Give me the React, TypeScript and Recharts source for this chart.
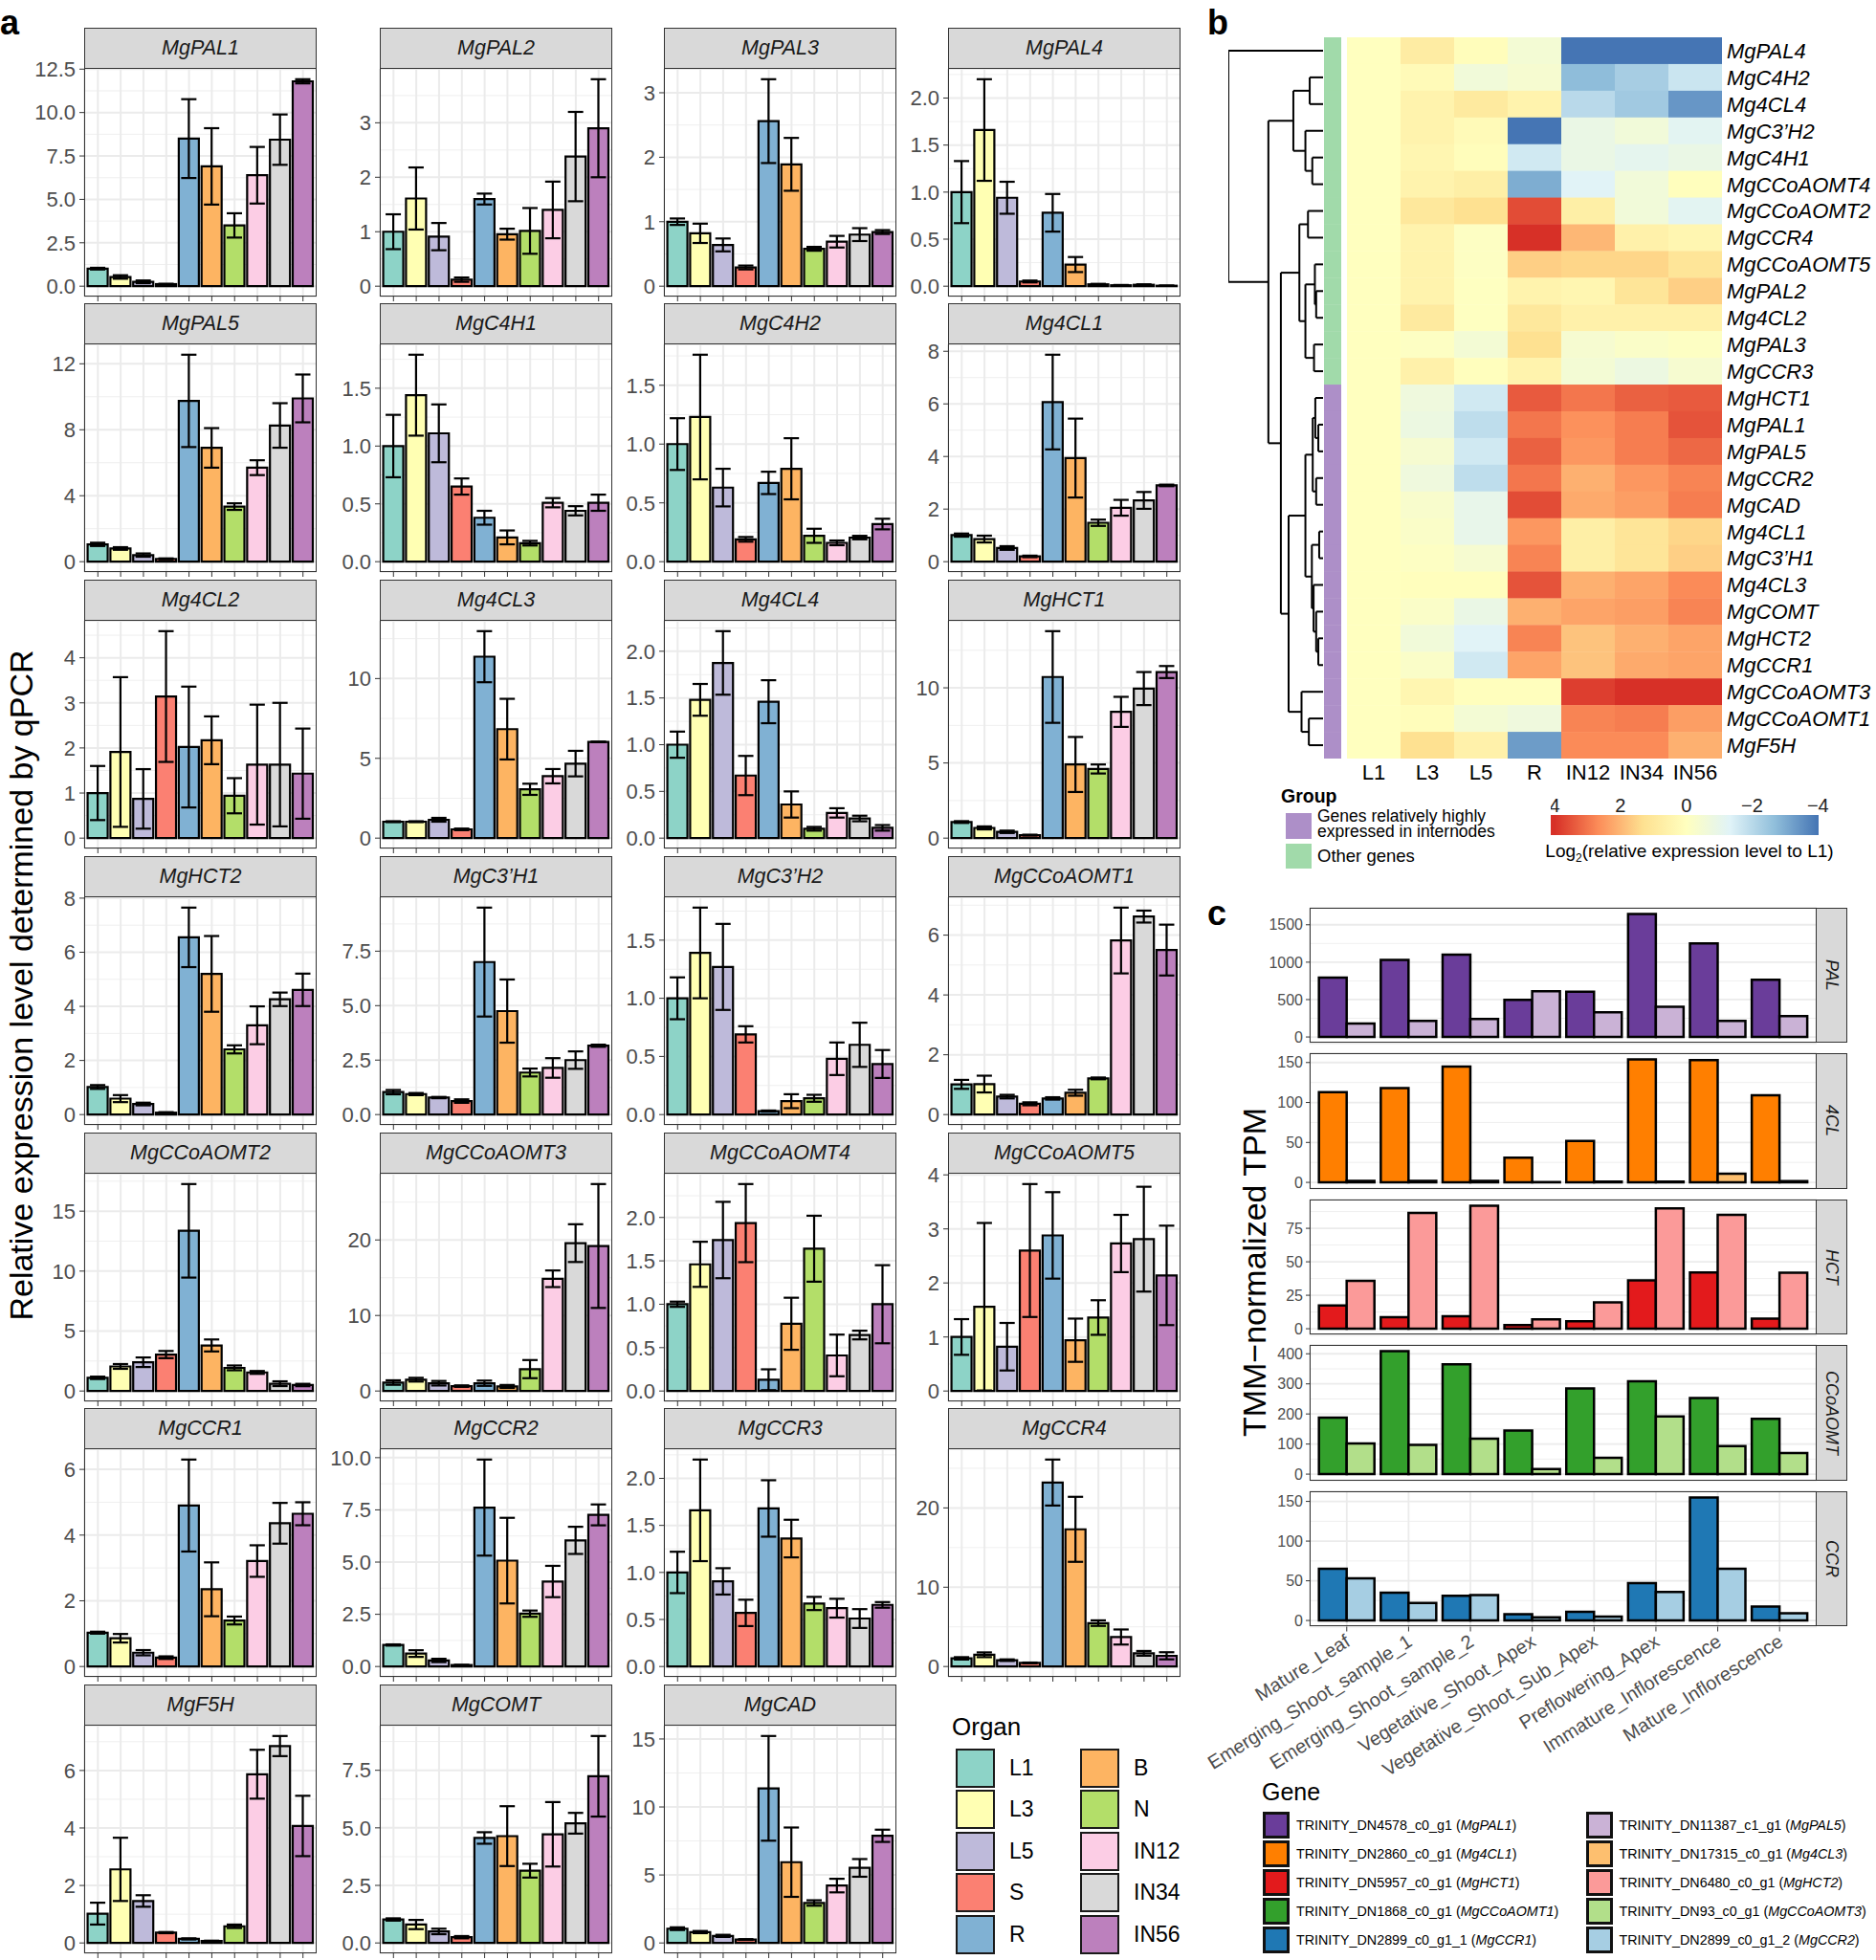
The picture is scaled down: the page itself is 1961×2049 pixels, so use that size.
import React from "react"
import {
  BarChart,
  Bar,
  XAxis,
  YAxis,
  CartesianGrid,
  ErrorBar,
  Cell,
  ScatterChart,
  Scatter,
  ReferenceLine,
  ReferenceArea,
} from "recharts"

const FONT = '"Liberation Sans", Arial, Helvetica, sans-serif'

// ---------------- panel a : qPCR ----------------
const organs = ["L1", "L3", "L5", "S", "R", "B", "N", "IN12", "IN34", "IN56"]
const organColors = ["#8DD3C7", "#FFFFB3", "#BEBADA", "#FB8072", "#80B1D3", "#FDB462", "#B3DE69", "#FCCDE5", "#D9D9D9", "#BC80BD"]

const MgPAL1_mean = [1.01, 0.53, 0.25, 0.12, 8.5, 6.9, 3.5, 6.39, 8.44, 11.8]
const MgPAL1_err = [0.05, 0.1, 0.08, 0.02, 2.27, 2.2, 0.7, 1.63, 1.45, 0.12]
const MgPAL1_ticks = ["0.0", "2.5", "5.0", "7.5", "10.0", "12.5"]

const MgPAL2_mean = [1.0, 1.61, 0.91, 0.12, 1.6, 0.955, 1.015, 1.4, 2.38, 2.9]
const MgPAL2_err = [0.32, 0.57, 0.25, 0.04, 0.1, 0.1, 0.42, 0.52, 0.82, 0.9]
const MgPAL2_ticks = ["0", "1", "2", "3"]

const MgPAL3_mean = [1.0, 0.82, 0.64, 0.29, 2.56, 1.89, 0.58, 0.69, 0.8, 0.84]
const MgPAL3_err = [0.05, 0.15, 0.1, 0.03, 0.65, 0.41, 0.03, 0.09, 0.1, 0.03]
const MgPAL3_ticks = ["0", "1", "2", "3"]

const MgPAL4_mean = [1.0, 1.66, 0.94, 0.05, 0.78, 0.23, 0.02, 0.01, 0.015, 0.005]
const MgPAL4_err = [0.33, 0.54, 0.17, 0.01, 0.2, 0.08, 0.005, 0.003, 0.005, 0.002]
const MgPAL4_ticks = ["0.0", "0.5", "1.0", "1.5", "2.0"]

const MgPAL5_mean = [1.05, 0.8, 0.4, 0.17, 9.75, 6.9, 3.34, 5.7, 8.26, 9.9]
const MgPAL5_err = [0.1, 0.08, 0.1, 0.03, 2.8, 1.2, 0.2, 0.45, 1.35, 1.45]
const MgPAL5_ticks = ["0", "4", "8", "12"]

const MgC4H1_mean = [1.0, 1.44, 1.11, 0.65, 0.38, 0.21, 0.16, 0.51, 0.44, 0.51]
const MgC4H1_err = [0.27, 0.35, 0.25, 0.07, 0.06, 0.06, 0.02, 0.04, 0.04, 0.07]
const MgC4H1_ticks = ["0.0", "0.5", "1.0", "1.5"]

const MgC4H2_mean = [1.0, 1.23, 0.63, 0.19, 0.67, 0.79, 0.22, 0.16, 0.205, 0.32]
const MgC4H2_err = [0.22, 0.53, 0.16, 0.02, 0.095, 0.26, 0.06, 0.02, 0.015, 0.045]
const MgC4H2_ticks = ["0.0", "0.5", "1.0", "1.5"]

const Mg4CL1_mean = [1.01, 0.86, 0.52, 0.2, 6.07, 3.94, 1.48, 2.05, 2.33, 2.9]
const Mg4CL1_err = [0.06, 0.13, 0.07, 0.03, 1.8, 1.5, 0.12, 0.3, 0.32, 0.03]
const Mg4CL1_ticks = ["0", "2", "4", "6", "8"]

const Mg4CL2_mean = [1.0, 1.91, 0.87, 3.14, 2.02, 2.17, 0.94, 1.63, 1.63, 1.43]
const Mg4CL2_err = [0.6, 1.66, 0.66, 1.45, 1.34, 0.53, 0.39, 1.33, 1.37, 1.0]
const Mg4CL2_ticks = ["0", "1", "2", "3", "4"]

const Mg4CL3_mean = [1.03, 1.03, 1.15, 0.55, 11.37, 6.83, 3.06, 3.88, 4.67, 6.03]
const Mg4CL3_err = [0.03, 0.03, 0.12, 0.05, 1.6, 1.9, 0.35, 0.45, 0.8, 0.02]
const Mg4CL3_ticks = ["0", "5", "10"]

const Mg4CL4_mean = [1.0, 1.48, 1.875, 0.67, 1.46, 0.36, 0.1, 0.27, 0.21, 0.11]
const Mg4CL4_err = [0.14, 0.17, 0.34, 0.21, 0.23, 0.14, 0.02, 0.05, 0.03, 0.03]
const Mg4CL4_ticks = ["0.0", "0.5", "1.0", "1.5", "2.0"]

const MgHCT1_mean = [1.07, 0.68, 0.42, 0.2, 10.72, 4.9, 4.6, 8.4, 9.95, 11.05]
const MgHCT1_err = [0.06, 0.1, 0.08, 0.03, 3.05, 1.83, 0.3, 1.0, 1.1, 0.4]
const MgHCT1_ticks = ["0", "5", "10"]

const MgHCT2_mean = [1.02, 0.59, 0.39, 0.07, 6.55, 5.2, 2.41, 3.3, 4.26, 4.61]
const MgHCT2_err = [0.07, 0.13, 0.05, 0.02, 1.1, 1.4, 0.15, 0.7, 0.25, 0.6]
const MgHCT2_ticks = ["0", "2", "4", "6", "8"]

const MgC3H1_mean = [1.03, 0.94, 0.78, 0.62, 7.0, 4.75, 1.93, 2.14, 2.5, 3.16]
const MgC3H1_err = [0.1, 0.05, 0.03, 0.08, 2.5, 1.45, 0.18, 0.45, 0.4, 0.05]
const MgC3H1_ticks = ["0.0", "2.5", "5.0", "7.5"]

const MgC3H2_mean = [1.0, 1.39, 1.27, 0.69, 0.03, 0.115, 0.14, 0.48, 0.6, 0.435]
const MgC3H2_err = [0.18, 0.39, 0.37, 0.07, 0.005, 0.06, 0.03, 0.14, 0.19, 0.12]
const MgC3H2_ticks = ["0.0", "0.5", "1.0", "1.5"]

const MgCCoAOMT1_mean = [1.01, 1.02, 0.6, 0.36, 0.54, 0.73, 1.21, 5.82, 6.62, 5.5]
const MgCCoAOMT1_err = [0.15, 0.28, 0.06, 0.05, 0.04, 0.1, 0.03, 1.1, 0.2, 0.85]
const MgCCoAOMT1_ticks = ["0", "2", "4", "6"]

const MgCCoAOMT2_mean = [1.1, 2.05, 2.4, 3.04, 13.36, 3.8, 1.93, 1.55, 0.61, 0.5]
const MgCCoAOMT2_err = [0.1, 0.2, 0.4, 0.3, 3.9, 0.5, 0.2, 0.12, 0.2, 0.1]
const MgCCoAOMT2_ticks = ["0", "5", "10", "15"]

const MgCCoAOMT3_mean = [1.12, 1.5, 1.03, 0.65, 1.03, 0.6, 2.9, 14.86, 19.58, 19.2]
const MgCCoAOMT3_err = [0.3, 0.25, 0.3, 0.1, 0.35, 0.2, 1.2, 1.1, 2.5, 8.2]
const MgCCoAOMT3_ticks = ["0", "10", "20"]

const MgCCoAOMT4_mean = [1.0, 1.46, 1.74, 1.935, 0.13, 0.775, 1.64, 0.41, 0.645, 1.0]
const MgCCoAOMT4_err = [0.03, 0.26, 0.44, 0.45, 0.12, 0.3, 0.38, 0.24, 0.05, 0.45]
const MgCCoAOMT4_ticks = ["0.0", "0.5", "1.0", "1.5", "2.0"]

const MgCCoAOMT5_mean = [1.0, 1.56, 0.82, 2.6, 2.88, 0.94, 1.36, 2.73, 2.81, 2.14]
const MgCCoAOMT5_err = [0.33, 1.55, 0.44, 1.23, 0.8, 0.4, 0.32, 0.53, 0.97, 0.92]
const MgCCoAOMT5_ticks = ["0", "1", "2", "3", "4"]

const MgCCR1_mean = [1.03, 0.86, 0.42, 0.27, 4.9, 2.35, 1.4, 3.21, 4.36, 4.65]
const MgCCR1_err = [0.03, 0.13, 0.08, 0.04, 1.4, 0.82, 0.12, 0.48, 0.62, 0.35]
const MgCCR1_ticks = ["0", "2", "4", "6"]

const MgCCR2_mean = [1.03, 0.62, 0.29, 0.07, 7.61, 5.07, 2.53, 4.07, 6.04, 7.26]
const MgCCR2_err = [0.03, 0.16, 0.08, 0.01, 2.3, 2.05, 0.15, 0.75, 0.65, 0.5]
const MgCCR2_ticks = ["0.0", "2.5", "5.0", "7.5", "10.0"]

const MgCCR3_mean = [1.0, 1.66, 0.905, 0.57, 1.68, 1.36, 0.67, 0.62, 0.51, 0.655]
const MgCCR3_err = [0.22, 0.54, 0.14, 0.14, 0.3, 0.2, 0.07, 0.1, 0.1, 0.03]
const MgCCR3_ticks = ["0.0", "0.5", "1.0", "1.5", "2.0"]

const MgCCR4_mean = [1.03, 1.48, 0.8, 0.45, 23.2, 17.3, 5.47, 3.72, 1.66, 1.35]
const MgCCR4_err = [0.15, 0.3, 0.1, 0.05, 2.9, 4.1, 0.35, 0.95, 0.3, 0.45]
const MgCCR4_ticks = ["0", "10", "20"]

const MgF5H_mean = [1.02, 2.56, 1.46, 0.36, 0.14, 0.07, 0.58, 5.87, 6.85, 4.07]
const MgF5H_err = [0.38, 1.1, 0.2, 0.02, 0.02, 0.01, 0.06, 0.85, 0.35, 1.05]
const MgF5H_ticks = ["0", "2", "4", "6"]

const MgCOMT_mean = [1.02, 0.8, 0.5, 0.25, 4.56, 4.64, 3.14, 4.72, 5.2, 7.24]
const MgCOMT_err = [0.05, 0.2, 0.12, 0.05, 0.25, 1.3, 0.3, 1.4, 0.45, 1.75]
const MgCOMT_ticks = ["0.0", "2.5", "5.0", "7.5"]

const MgCAD_mean = [1.05, 0.8, 0.52, 0.25, 11.37, 5.94, 2.94, 4.22, 5.52, 7.88]
const MgCAD_err = [0.1, 0.08, 0.08, 0.03, 3.85, 2.55, 0.2, 0.5, 0.65, 0.45]
const MgCAD_ticks = ["0", "5", "10", "15"]

const qpcrPanels = [
  { gene: "MgPAL1", mean: MgPAL1_mean, err: MgPAL1_err, ticks: MgPAL1_ticks },
  { gene: "MgPAL2", mean: MgPAL2_mean, err: MgPAL2_err, ticks: MgPAL2_ticks },
  { gene: "MgPAL3", mean: MgPAL3_mean, err: MgPAL3_err, ticks: MgPAL3_ticks },
  { gene: "MgPAL4", mean: MgPAL4_mean, err: MgPAL4_err, ticks: MgPAL4_ticks },
  { gene: "MgPAL5", mean: MgPAL5_mean, err: MgPAL5_err, ticks: MgPAL5_ticks },
  { gene: "MgC4H1", mean: MgC4H1_mean, err: MgC4H1_err, ticks: MgC4H1_ticks },
  { gene: "MgC4H2", mean: MgC4H2_mean, err: MgC4H2_err, ticks: MgC4H2_ticks },
  { gene: "Mg4CL1", mean: Mg4CL1_mean, err: Mg4CL1_err, ticks: Mg4CL1_ticks },
  { gene: "Mg4CL2", mean: Mg4CL2_mean, err: Mg4CL2_err, ticks: Mg4CL2_ticks },
  { gene: "Mg4CL3", mean: Mg4CL3_mean, err: Mg4CL3_err, ticks: Mg4CL3_ticks },
  { gene: "Mg4CL4", mean: Mg4CL4_mean, err: Mg4CL4_err, ticks: Mg4CL4_ticks },
  { gene: "MgHCT1", mean: MgHCT1_mean, err: MgHCT1_err, ticks: MgHCT1_ticks },
  { gene: "MgHCT2", mean: MgHCT2_mean, err: MgHCT2_err, ticks: MgHCT2_ticks },
  { gene: "MgC3’H1", mean: MgC3H1_mean, err: MgC3H1_err, ticks: MgC3H1_ticks },
  { gene: "MgC3’H2", mean: MgC3H2_mean, err: MgC3H2_err, ticks: MgC3H2_ticks },
  { gene: "MgCCoAOMT1", mean: MgCCoAOMT1_mean, err: MgCCoAOMT1_err, ticks: MgCCoAOMT1_ticks },
  { gene: "MgCCoAOMT2", mean: MgCCoAOMT2_mean, err: MgCCoAOMT2_err, ticks: MgCCoAOMT2_ticks },
  { gene: "MgCCoAOMT3", mean: MgCCoAOMT3_mean, err: MgCCoAOMT3_err, ticks: MgCCoAOMT3_ticks },
  { gene: "MgCCoAOMT4", mean: MgCCoAOMT4_mean, err: MgCCoAOMT4_err, ticks: MgCCoAOMT4_ticks },
  { gene: "MgCCoAOMT5", mean: MgCCoAOMT5_mean, err: MgCCoAOMT5_err, ticks: MgCCoAOMT5_ticks },
  { gene: "MgCCR1", mean: MgCCR1_mean, err: MgCCR1_err, ticks: MgCCR1_ticks },
  { gene: "MgCCR2", mean: MgCCR2_mean, err: MgCCR2_err, ticks: MgCCR2_ticks },
  { gene: "MgCCR3", mean: MgCCR3_mean, err: MgCCR3_err, ticks: MgCCR3_ticks },
  { gene: "MgCCR4", mean: MgCCR4_mean, err: MgCCR4_err, ticks: MgCCR4_ticks },
  { gene: "MgF5H", mean: MgF5H_mean, err: MgF5H_err, ticks: MgF5H_ticks },
  { gene: "MgCOMT", mean: MgCOMT_mean, err: MgCOMT_err, ticks: MgCOMT_ticks },
  { gene: "MgCAD", mean: MgCAD_mean, err: MgCAD_err, ticks: MgCAD_ticks },
]

// ---------------- panel b : heatmap ----------------
const hmCols = ["L1", "L3", "L5", "R", "IN12", "IN34", "IN56"]
const hmRows = [
  "MgPAL4", "MgC4H2", "Mg4CL4", "MgC3’H2", "MgC4H1", "MgCCoAOMT4", "MgCCoAOMT2", "MgCCR4", "MgCCoAOMT5",
  "MgPAL2", "Mg4CL2", "MgPAL3", "MgCCR3", "MgHCT1", "MgPAL1", "MgPAL5", "MgCCR2", "MgCAD", "Mg4CL1",
  "MgC3’H1", "Mg4CL3", "MgCOMT", "MgHCT2", "MgCCR1", "MgCCoAOMT3", "MgCCoAOMT1", "MgF5H",
]
const hmGroup = [0, 0, 0, 0, 0, 0, 0, 0, 0, 0, 0, 0, 0, 1, 1, 1, 1, 1, 1, 1, 1, 1, 1, 1, 1, 1, 1]
const hm_L1 = [0, 0, 0, 0, 0, 0, 0, 0, 0, 0, 0, 0, 0, 0, 0, 0, 0, 0, 0, 0, 0, 0, 0, 0, 0, 0, 0]
const hm_L3 = [0.8, 0.2, 0.5, 0.5, 0.4, 0.5, 1.0, 0.5, 0.5, 0.5, 0.9, -0.1, 0.6, -0.7, -0.8, -0.4, -0.7, -0.3, -0.2, -0.1, 0.05, -0.2, -0.6, -0.2, 0.4, 0.1, 1.3]
const hm_L5 = [0.1, -0.6, 0.9, 0.2, 0.1, 0.7, 1.3, -0.1, -0.1, -0.05, -0.05, -0.5, 0.05, -1.6, -1.9, -1.6, -1.9, -1.0, -1.0, -0.4, 0.05, -0.9, -1.3, -1.6, 0.05, -0.5, 0.6]
const hm_R = [-0.5, -0.4, 0.5, -4.0, -1.6, -3.0, 3.6, 4.0, 1.6, 0.5, 1.0, 1.3, 0.5, 3.4, 3.0, 3.3, 3.0, 3.6, 2.5, 2.8, 3.5, 2.1, 2.8, 2.3, 0.05, -0.7, -3.3]
const hm_IN12 = [-4.0, -2.7, -2.0, -0.9, -0.9, -1.3, 0.7, 2.0, 1.5, 0.4, 0.6, -0.4, -0.5, 3.0, 2.6, 2.5, 2.1, 2.2, 0.7, 0.7, 2.1, 2.3, 1.8, 1.8, 3.8, 2.8, 2.7]
const hm_IN34 = [-4.0, -2.3, -2.4, -0.6, -1.1, -0.6, -0.6, 0.6, 1.5, 1.1, 0.6, -0.2, -0.8, 3.3, 2.9, 2.9, 2.5, 2.4, 1.1, 1.1, 2.3, 2.4, 2.1, 2.2, 4.0, 2.9, 2.7]
const hm_IN56 = [-4.0, -1.7, -3.4, -1.2, -0.9, 0.05, -1.2, 0.4, 1.1, 1.6, 0.6, -0.1, -0.4, 3.4, 3.5, 3.2, 2.8, 2.9, 1.5, 1.6, 2.7, 2.8, 2.3, 2.3, 4.0, 2.4, 2.1]
const hmValues = [hm_L1, hm_L3, hm_L5, hm_R, hm_IN12, hm_IN34, hm_IN56]
const cbTicks = [4, 2, 0, -2, -4]

// merges: [node, left child, right child, height]; numbers are leaf rows
const dendroMerges: [string, number | string, number | string, number][] = [
  ["n1", 1, 2, 31], ["n2", 4, 5, 25], ["n3", 3, "n2", 41], ["n4", "n1", "n3", 69],
  ["n5", 6, 7, 35], ["n6", 9, 10, 16], ["n7", 8, "n6", 19], ["n8", 11, 12, 21], ["n9", "n7", "n8", 41], ["n10", "n5", "n9", 55],
  ["n11", 14, 15, 11], ["n12", 13, "n11", 18], ["n13", 16, 17, 16], ["n14", "n12", "n13", 24],
  ["n15", 18, 19, 9], ["n16", 22, 23, 11], ["n17", 21, "n16", 16], ["n18", 20, "n17", 22], ["n19", "n15", "n18", 26],
  ["n20", "n14", "n19", 41], ["n21", 25, 26, 33], ["n22", 24, "n21", 50], ["n23", "n20", "n22", 80],
  ["n24", "n10", "n23", 98], ["n25", "n4", "n24", 127], ["root", 0, "n25", 220],
]

// ---------------- panel c : TPM ----------------
const tissues = [
  "Mature_Leaf", "Emerging_Shoot_sample_1", "Emerging_Shoot_sample_2", "Vegetative_Shoot_Apex",
  "Vegetative_Shoot_Sub_Apex", "Preflowering_Apex", "Immature_Inflorescence", "Mature_Inflorescence",
]
const PAL_1 = [795, 1030, 1100, 495, 605, 1645, 1250, 765]
const PAL_5 = [180, 215, 240, 610, 330, 405, 215, 280]
const CL_1 = [113, 118, 145, 31, 52, 154, 153, 109]
const CL_3 = [2, 2, 2, 0.5, 1, 1, 11, 1.5]
const HCT_1 = [17.4, 8.7, 9.3, 2.8, 5.6, 36.2, 42.1, 7.6]
const HCT_2 = [35.7, 86.5, 91.9, 7, 19.7, 89.9, 85.1, 41.9]
const CCoAOMT_1 = [188, 409, 365, 145, 285, 309, 253, 184]
const CCoAOMT_3 = [102, 97, 118, 17, 54, 192, 93, 70]
const CCR_1 = [65, 35, 31, 8, 11, 47, 155, 17.5]
const CCR_2 = [53, 22, 32, 4, 5, 36, 65, 9]

const tpmFacets = [
  { label: "PAL", a: PAL_1, b: PAL_5, ca: "#6A3D9A", cb: "#CAB2D6", ticks: ["0", "500", "1000", "1500"] },
  { label: "4CL", a: CL_1, b: CL_3, ca: "#FF7F00", cb: "#FDBF6F", ticks: ["0", "50", "100", "150"] },
  { label: "HCT", a: HCT_1, b: HCT_2, ca: "#E31A1C", cb: "#FB9A99", ticks: ["0", "25", "50", "75"] },
  { label: "CCoAOMT", a: CCoAOMT_1, b: CCoAOMT_3, ca: "#33A02C", cb: "#B2DF8A", ticks: ["0", "100", "200", "300", "400"] },
  { label: "CCR", a: CCR_1, b: CCR_2, ca: "#1F78B4", cb: "#A6CEE3", ticks: ["0", "50", "100", "150"] },
]

const geneLegend = [
  ["TRINITY_DN4578_c0_g1", "MgPAL1", "#6A3D9A"],
  ["TRINITY_DN2860_c0_g1", "Mg4CL1", "#FF7F00"],
  ["TRINITY_DN5957_c0_g1", "MgHCT1", "#E31A1C"],
  ["TRINITY_DN1868_c0_g1", "MgCCoAOMT1", "#33A02C"],
  ["TRINITY_DN2899_c0_g1_1", "MgCCR1", "#1F78B4"],
  ["TRINITY_DN11387_c1_g1", "MgPAL5", "#CAB2D6"],
  ["TRINITY_DN17315_c0_g1", "Mg4CL3", "#FDBF6F"],
  ["TRINITY_DN6480_c0_g1", "MgHCT2", "#FB9A99"],
  ["TRINITY_DN93_c0_g1", "MgCCoAOMT3", "#B2DF8A"],
  ["TRINITY_DN2899_c0_g1_2", "MgCCR2", "#A6CEE3"],
]

// ---------------- helpers ----------------
function minorValues(ticks: number[], lo: number, hi: number) {
  const step = ticks[1] - ticks[0]
  const out: number[] = []
  for (let k = -1; k <= ticks.length; k++) {
    const v = ticks[0] + step * (k + 0.5)
    if (v > lo && v < hi) out.push(v)
  }
  return out
}

function labelFor(labels: string[]) {
  return (v: number) => {
    const i = labels.findIndex((l) => Math.abs(Number(l) - v) < 1e-9)
    return i >= 0 ? labels[i] : ""
  }
}

const rdylbu = ["#D73027", "#FC8D59", "#FEE090", "#FFFFBF", "#E0F3F8", "#91BFDB", "#4575B4"]
function hex(c: string) {
  return [1, 3, 5].map((i) => parseInt(c.slice(i, i + 2), 16))
}
function hmColor(v: number) {
  const t = Math.min(1, Math.max(0, (4 - v) / 8)) * 6
  const i = Math.min(5, Math.floor(t))
  const f = t - i
  const a = hex(rdylbu[i])
  const b = hex(rdylbu[i + 1])
  const m = a.map((x, k) => Math.round(x + (b[k] - x) * f))
  return `rgb(${m[0]},${m[1]},${m[2]})`
}

// ---------------- panel a component ----------------
const A_W = 243
const A_STRIP = 43
const A_H = 238
const A_AXIS = 62
const A_TOPPAD = 14
const colLeft = [88, 397, 694, 991]
const rowTop = (r: number) => 28.7 + 288.7 * r

function QpcrPanel({ p, left, top }: any) {
  const data = organs.map((o, i) => ({ organ: o, v: p.mean[i], e: p.err[i] }))
  const ticks = p.ticks.map(Number)
  const M = Math.max(...p.mean.map((m: number, i: number) => m + p.err[i]))
  const lo = -0.05 * M
  const hi = 1.05 * M
  const pad = (0.1 * A_W) / 10.2
  return (
    <>
      <div style={{ position: "absolute", left: left - A_AXIS, top: top + A_STRIP - A_TOPPAD }}>
        <BarChart
          width={A_AXIS + A_W} height={A_H + 8 + A_TOPPAD} data={data}
          margin={{ top: A_TOPPAD, right: 0, bottom: 0, left: 0 }} barCategoryGap="5%"
        >
          <CartesianGrid vertical={false} horizontalValues={minorValues(ticks, lo, hi)} stroke="#EFEFEF" strokeWidth={1} />
          <CartesianGrid stroke="#EBEBEB" strokeWidth={2} />
          <XAxis
            dataKey="organ" height={8} interval={0} padding={{ left: pad, right: pad }}
            axisLine={false} tickLine={{ stroke: "#333" }} tickSize={5} tickFormatter={() => ""}
          />
          <YAxis
            type="number" domain={[lo, hi]} ticks={ticks} interval={0} allowDataOverflow width={A_AXIS}
            axisLine={false} tickLine={{ stroke: "#333" }} tickSize={5} tickMargin={4}
            tick={{ fill: "#4D4D4D", fontSize: 22 }} tickFormatter={labelFor(p.ticks)}
          />
          <Bar dataKey="v" stroke="#000" strokeWidth={2.2} isAnimationActive={false}>
            {data.map((d, i) => (
              <Cell key={d.organ} fill={organColors[i]} />
            ))}
            <ErrorBar dataKey="e" width={8} stroke="#000" strokeWidth={2.2} direction="y" />
          </Bar>
        </BarChart>
      </div>
      <div
        style={{
          position: "absolute", left, top, width: A_W, height: A_STRIP, background: "#D9D9D9",
          border: "1.5px solid #333", boxSizing: "border-box", display: "flex", alignItems: "center",
          justifyContent: "center", fontStyle: "italic", fontSize: 21.5, color: "#1A1A1A",
        }}
      >
        {p.gene}
      </div>
      <div
        style={{
          position: "absolute", left, top: top + A_STRIP - 1, width: A_W, height: A_H + 1,
          border: "1.5px solid #333", boxSizing: "border-box", pointerEvents: "none",
        }}
      />
    </>
  )
}

function OrganLegend() {
  return (
    <>
      <div style={{ position: "absolute", left: 995, top: 1791, fontSize: 26, lineHeight: "28px" }}>Organ</div>
      {organs.map((o, i) => {
        const kl = i < 5 ? 999 : 1129
        const kt = 1828 + (i % 5) * 43.4
        return (
          <React.Fragment key={o}>
            <div
              style={{
                position: "absolute", left: kl, top: kt, width: 41, height: 41, background: organColors[i],
                border: "2.5px solid #1A1A1A", boxSizing: "border-box",
              }}
            />
            <div style={{ position: "absolute", left: kl + 56, top: kt, height: 41, lineHeight: "41px", fontSize: 23 }}>{o}</div>
          </React.Fragment>
        )
      })}
    </>
  )
}

// ---------------- panel b component ----------------
const HM_LEFT = 1408
const HM_TOP = 39.3
const HM_W = 392
const HM_H = 754
const HM_CW = HM_W / hmCols.length
const HM_CH = HM_H / hmRows.length

function dendroSegments() {
  const pos: Record<string, { y: number; h: number }> = {}
  const get = (k: number | string) => (typeof k === "number" ? { y: k, h: 0 } : pos[k])
  const segs: { x: number; y: number }[][] = []
  for (const [id, a, b, h] of dendroMerges) {
    const A = get(a)
    const B = get(b)
    segs.push([{ x: h, y: A.y }, { x: h, y: B.y }])
    segs.push([{ x: h, y: A.y }, { x: A.h, y: A.y }])
    segs.push([{ x: h, y: B.y }, { x: B.h, y: B.y }])
    pos[id] = { y: (A.y + B.y) / 2, h }
  }
  return segs
}

const HeatCell = (props: any) => (
  <rect
    x={props.cx - HM_CW / 2} y={props.cy - HM_CH / 2} width={HM_CW + 0.4} height={HM_CH + 0.4}
    fill={hmColor(props.payload.v)}
  />
)

const RowTick = (props: any) => (
  <text x={props.x} y={props.y} dy="0.36em" textAnchor="start" fontStyle="italic" fontSize={22} fill="#000">
    {hmRows[props.payload.value]}
  </text>
)

function Heatmap() {
  const cells: { x: number; y: number; v: number }[] = []
  hmValues.forEach((col, c) => col.forEach((v, r) => cells.push({ x: c, y: r, v })))
  const leaves = hmRows.map((_, i) => ({ x: 0, y: i }))
  const groups = hmGroup.map((g, i) => ({ x: 0.5, y: i, g }))
  const segs = dendroSegments()
  return (
    <>
      {/* dendrogram */}
      <div style={{ position: "absolute", left: 1284, top: HM_TOP }}>
        <ScatterChart width={99} height={HM_H} margin={{ top: 0, right: 0, bottom: 0, left: 0 }}>
          <XAxis type="number" dataKey="x" domain={[0, 220]} reversed hide allowDataOverflow />
          <YAxis type="number" dataKey="y" domain={[-0.5, 26.5]} reversed hide allowDataOverflow />
          <Scatter data={leaves} shape={() => <g />} isAnimationActive={false} />
          {segs.map((s, i) => (
            <ReferenceLine key={i} segment={s} stroke="#000" strokeWidth={2} ifOverflow="visible" />
          ))}
        </ScatterChart>
      </div>
      {/* group annotation */}
      <div style={{ position: "absolute", left: 1384, top: HM_TOP }}>
        <ScatterChart width={18} height={HM_H} margin={{ top: 0, right: 0, bottom: 0, left: 0 }}>
          <XAxis type="number" dataKey="x" domain={[0, 1]} hide allowDataOverflow />
          <YAxis type="number" dataKey="y" domain={[-0.5, 26.5]} reversed hide allowDataOverflow />
          <Scatter
            data={groups}
            isAnimationActive={false}
            shape={(p: any) => (
              <rect x={p.cx - 9} y={p.cy - HM_CH / 2} width={18} height={HM_CH + 0.4} fill={p.payload.g ? "#AD8FC8" : "#A1DAAA"} />
            )}
          />
        </ScatterChart>
      </div>
      {/* cells */}
      <div style={{ position: "absolute", left: HM_LEFT, top: HM_TOP }}>
        <ScatterChart width={HM_W + 161} height={HM_H + 34} margin={{ top: 0, right: 0, bottom: 0, left: 0 }}>
          <XAxis
            type="number" dataKey="x" domain={[-0.5, 6.5]} ticks={[0, 1, 2, 3, 4, 5, 6]} interval={0}
            allowDataOverflow height={34} axisLine={false} tickLine={false} tickSize={0} tickMargin={6}
            tick={{ fontSize: 22, fill: "#000" }} tickFormatter={(v: number) => hmCols[v]}
          />
          <YAxis
            type="number" dataKey="y" domain={[-0.5, 26.5]} reversed orientation="right"
            ticks={hmRows.map((_, i) => i)} interval={0} allowDataOverflow width={161}
            axisLine={false} tickLine={false} tickSize={0} tickMargin={5} tick={<RowTick />}
          />
          <Scatter data={cells} shape={<HeatCell />} isAnimationActive={false} />
        </ScatterChart>
      </div>
      {/* colour bar */}
      <div style={{ position: "absolute", left: 1620.7, top: 826 }}>
        <ScatterChart width={300} height={47} margin={{ top: 0, right: 20, bottom: 0, left: 0 }}>
          <XAxis
            type="number" dataKey="x" domain={[-4.02, 4.12]} reversed orientation="top" ticks={cbTicks}
            interval={0} allowDataOverflow height={26} axisLine={false} tickLine={false} tickSize={0} tickMargin={3}
            tick={{ fontSize: 20, fill: "#222" }} tickFormatter={(v: number) => (v < 0 ? "−" + -v : String(v))}
          />
          <YAxis type="number" dataKey="y" domain={[0, 1]} hide allowDataOverflow />
          <ReferenceArea x1={-4.02} x2={4.12} y1={0} y2={1} fill="url(#hmGrad)" fillOpacity={1} stroke="none" />
          <Scatter data={cbTicks.map((v) => ({ x: v, y: 0.5 }))} shape={() => <g />} isAnimationActive={false} />
        </ScatterChart>
      </div>
      <div style={{ position: "absolute", left: 1608, top: 878, width: 316, textAlign: "center", fontSize: 19, lineHeight: "24px", whiteSpace: "nowrap" }}>
        Log<sub style={{ fontSize: 12 }}>2</sub>(relative expression level to L1)
      </div>
      {/* group legend */}
      <div style={{ position: "absolute", left: 1339, top: 821, fontSize: 19.5, fontWeight: "bold", lineHeight: "22px" }}>Group</div>
      <div style={{ position: "absolute", left: 1344, top: 850, width: 27, height: 27, background: "#AD8FC8" }} />
      <div style={{ position: "absolute", left: 1344, top: 882, width: 27, height: 26, background: "#A1DAAA" }} />
      <div style={{ position: "absolute", left: 1377, top: 846, fontSize: 17.5, lineHeight: "15.5px", whiteSpace: "nowrap" }}>
        Genes relatively highly
        <br />
        expressed in internodes
      </div>
      <div style={{ position: "absolute", left: 1377, top: 884, fontSize: 18.5, lineHeight: "22px" }}>Other genes</div>
    </>
  )
}

// ---------------- panel c component ----------------
const C_LEFT = 1369
const C_W = 530
const C_H = 141.5
const C_AXIS = 50
const C_EXTRA_LEFT = 70
const C_TOP0 = 948.7
const C_PITCH = 152.5
const C_XAX = 170
const C_TOPPAD = 10
const C_BOTPAD = 10

const TissueTick = (props: any) => {
  const x = props.x + 5
  const y = props.y + 12
  return (
    <text x={x} y={y} textAnchor="end" fontSize={20} fill="#4D4D4D" transform={`rotate(-32, ${x}, ${y})`}>
      {props.payload.value}
    </text>
  )
}

function TpmFacet({ f, top, last }: any) {
  const data = tissues.map((t, i) => ({ t, a: f.a[i], b: f.b[i] }))
  const ticks = f.ticks.map(Number)
  const M = Math.max(...f.a, ...f.b)
  const lo = -0.05 * M
  const hi = 1.05 * M
  const pad = (0.1 * C_W) / 8.2
  const bottom = last ? 0 : C_BOTPAD
  return (
    <>
      <div style={{ position: "absolute", left: C_LEFT - C_AXIS - C_EXTRA_LEFT, top: top - C_TOPPAD }}>
        <BarChart
          width={C_EXTRA_LEFT + C_AXIS + C_W} height={C_H + C_TOPPAD + bottom + (last ? C_XAX : 0)} data={data}
          margin={{ top: C_TOPPAD, right: 0, bottom, left: C_EXTRA_LEFT }} barCategoryGap="5%" barGap={0}
        >
          <CartesianGrid vertical={false} horizontalValues={minorValues(ticks, lo, hi)} stroke="#EFEFEF" strokeWidth={1} />
          <CartesianGrid stroke="#EBEBEB" strokeWidth={1.8} />
          <XAxis
            dataKey="t" interval={0} height={last ? C_XAX : 0} padding={{ left: pad, right: pad }} axisLine={false}
            tickLine={last ? { stroke: "#333" } : false} tickSize={last ? 5 : 0} tick={last ? <TissueTick /> : false}
          />
          <YAxis
            type="number" domain={[lo, hi]} ticks={ticks} interval={0} allowDataOverflow width={C_AXIS}
            axisLine={false} tickLine={{ stroke: "#333" }} tickSize={4} tickMargin={3}
            tick={{ fill: "#4D4D4D", fontSize: 16 }} tickFormatter={labelFor(f.ticks)}
          />
          <Bar dataKey="a" fill={f.ca} stroke="#000" strokeWidth={2.5} isAnimationActive={false} />
          <Bar dataKey="b" fill={f.cb} stroke="#000" strokeWidth={2.5} isAnimationActive={false} />
        </BarChart>
      </div>
      <div
        style={{
          position: "absolute", left: C_LEFT, top, width: C_W, height: C_H, border: "1.5px solid #333",
          boxSizing: "border-box", pointerEvents: "none",
        }}
      />
      <div
        style={{
          position: "absolute", left: C_LEFT + C_W - 1, top, width: 33, height: C_H, background: "#D9D9D9",
          border: "1.5px solid #333", boxSizing: "border-box", display: "flex", alignItems: "center",
          justifyContent: "center",
        }}
      >
        <span style={{ writingMode: "vertical-rl", fontStyle: "italic", fontSize: 18, color: "#1A1A1A" }}>{f.label}</span>
      </div>
    </>
  )
}

function GeneLegend() {
  return (
    <>
      <div style={{ position: "absolute", left: 1319, top: 1859, fontSize: 25, lineHeight: "28px" }}>Gene</div>
      {geneLegend.map(([id, name, col], i) => {
        const kl = i < 5 ? 1320 : 1657.5
        const kt = 1894 + (i % 5) * 30.1
        return (
          <React.Fragment key={id + name}>
            <div
              style={{
                position: "absolute", left: kl, top: kt, width: 28, height: 28, background: col,
                border: "3px solid #111", boxSizing: "border-box",
              }}
            />
            <div style={{ position: "absolute", left: kl + 35, top: kt, height: 28, lineHeight: "28px", fontSize: 14.3, whiteSpace: "nowrap" }}>
              {id} (<i>{name}</i>)
            </div>
          </React.Fragment>
        )
      })}
    </>
  )
}

export default function App() {
  const gradStops = rdylbu.map((c, i) => {
    const v = 4 - (8 * i) / 6
    return { off: ((4.12 - v) / 8.14) * 100, c }
  })
  return (
    <div
      style={{
        position: "absolute", left: 0, top: 0, width: 1961, height: 2049, background: "#fff",
        fontFamily: FONT, overflow: "hidden", color: "#000",
      }}
    >
      <svg width={0} height={0} style={{ position: "absolute" }}>
        <defs>
          <linearGradient id="hmGrad" x1="0" y1="0" x2="1" y2="0">
            <stop offset="0%" stopColor={rdylbu[0]} />
            {gradStops.map((s) => (
              <stop key={s.off} offset={`${s.off}%`} stopColor={s.c} />
            ))}
          </linearGradient>
        </defs>
      </svg>

      {qpcrPanels.map((p, i) => (
        <QpcrPanel key={p.gene} p={p} left={colLeft[i % 4]} top={rowTop(Math.floor(i / 4))} />
      ))}
      <OrganLegend />

      <Heatmap />

      {tpmFacets.map((f, i) => (
        <TpmFacet key={f.label} f={f} top={C_TOP0 + C_PITCH * i} last={i === tpmFacets.length - 1} />
      ))}
      <GeneLegend />

      <svg width={1961} height={2049} style={{ position: "absolute", left: 0, top: 0, pointerEvents: "none" }}>
        <text x={0} y={36} fontSize={36} fontWeight="bold">a</text>
        <text x={1262} y={36} fontSize={36} fontWeight="bold">b</text>
        <text x={1262} y={967} fontSize={36} fontWeight="bold">c</text>
        <text x={22} y={1030} fontSize={34} textAnchor="middle" dominantBaseline="central" transform="rotate(-90, 22, 1030)">
          Relative expression level determined by qPCR
        </text>
        <text x={1311} y={1330} fontSize={34} textAnchor="middle" dominantBaseline="central" transform="rotate(-90, 1311, 1330)">
          TMM−normalized TPM
        </text>
      </svg>
    </div>
  )
}
